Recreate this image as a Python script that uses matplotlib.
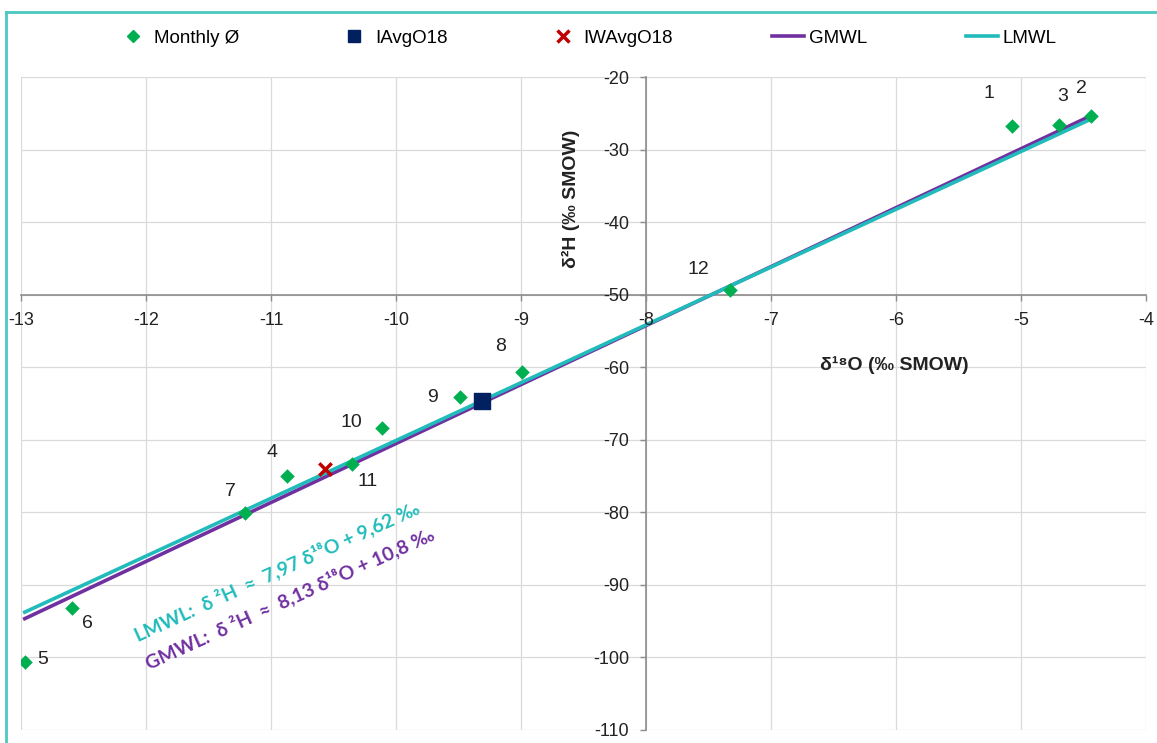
import matplotlib
matplotlib.use("Agg")
import matplotlib.pyplot as plt
from matplotlib.lines import Line2D
import numpy as np

# ---- data ----
month_labels = ["1", "2", "3", "4", "5", "6", "7", "8", "9", "10", "11", "12"]
d18O = [-5.07, -4.44, -4.70, -10.87, -12.97, -12.59, -11.21, -8.99, -9.49, -10.11, -10.35, -7.33]
d2H = [-26.7, -25.3, -26.6, -75.0, -100.6, -93.2, -80.1, -60.6, -64.1, -68.3, -73.3, -49.3]
iavg = (-9.31, -64.6)
iwavg = (-10.57, -74.0)
gmwl_slope, gmwl_int = 8.13, 10.8
lmwl_slope, lmwl_int = 7.97, 9.62
xticks = [-13, -12, -11, -10, -9, -8, -7, -6, -5, -4]
yticks = [-110, -100, -90, -80, -70, -60, -50, -40, -30, -20]
# label offsets in pixels
label_offsets = [(-23, 32), (-10, 27), (4, 29), (-15, 24), (18, 2), (15, -15),
                 (-14, 22), (-22, 25), (-27, 0), (-31, 5), (15, -18), (-31, 20)]

plt.rcParams['font.family'] = ['Liberation Sans', 'DejaVu Sans']
plt.rcParams['axes.unicode_minus'] = False

W, H = 1157, 743
fig = plt.figure(figsize=(W / 100, H / 100), dpi=100)
ax = fig.add_axes([21 / W, 1 - 730 / H, (1146 - 21) / W, (730 - 77.3) / H])

ax.set_xlim(-13, -4)
ax.set_ylim(-110, -20)
ax.set_xticks(xticks)
ax.set_yticks(yticks)
ax.grid(False)
for xv in xticks:
    ax.axvline(xv, color='#DADADA', lw=0.9, zorder=0.5)
for yv in yticks:
    ax.axhline(yv, color='#DADADA', lw=0.9, zorder=0.5)
ax.set_axisbelow(False)

for s in ['top', 'right']:
    ax.spines[s].set_visible(False)
ax.spines['left'].set_position(('data', -8))
ax.spines['bottom'].set_position(('data', -50))
for s in ['left', 'bottom']:
    ax.spines[s].set_color('#8C8C8C')
    ax.spines[s].set_linewidth(1.2)
    ax.spines[s].set_zorder(1)
ax.tick_params(axis='both', colors='#8C8C8C', labelcolor='#222222', labelsize=13,
               direction='out', length=4, width=1)
ax.tick_params(axis='x', pad=8)
ax.tick_params(axis='y', pad=8)

xs = np.array([min(d18O), max(d18O)])
ax.plot(xs, gmwl_slope * xs + gmwl_int, color='#7030A0', lw=2.6, label='GMWL', zorder=2)
ax.plot(xs, lmwl_slope * xs + lmwl_int, color='#21BBBB', lw=2.6, label='LMWL', zorder=2.1)

ax.scatter(d18O, d2H, marker='D', s=55, color='#00B050', label='Monthly Ø', zorder=5, linewidths=0)
ax.scatter([iavg[0]], [iavg[1]], marker='s', s=130, color='#002060', label='IAvgO18', zorder=6)
ax.scatter([iwavg[0]], [iwavg[1]], marker='x', s=80, color='#C00000', linewidths=2.5,
           label='IWAvgO18', zorder=6)

for lab, x, y, (dx, dy) in zip(month_labels, d18O, d2H, label_offsets):
    ax.annotate(lab, (x, y), xytext=(dx, dy), textcoords='offset pixels',
                ha='center', va='center', fontsize=14, color='#222222')

ax.text(-6.01, -59.7, 'δ¹⁸O (‰ SMOW)', fontsize=14, fontweight='bold', color='#222222',
        ha='center', va='center')
ax.text(-8.6, -36.7, 'δ²H (‰ SMOW)', fontsize=14, fontweight='bold', color='#222222',
        ha='center', va='center', rotation=90)

eqfam = ['Lato', 'DejaVu Sans']
ax.text(-10.95, -88.1, 'LMWL:  δ ²H  ≈  7,97 δ¹⁸O + 9,62 ‰', color='#21BBBB', fontsize=14,
        fontweight='bold', rotation=24.5, rotation_mode='anchor', ha='center', va='center',
        family=eqfam)
ax.text(-10.85, -91.8, 'GMWL:  δ ²H  ≈  8,13 δ¹⁸O + 10,8 ‰', color='#7030A0', fontsize=14,
        fontweight='bold', rotation=24.5, rotation_mode='anchor', ha='center', va='center',
        family=eqfam)

handles = [
    Line2D([], [], marker='D', color='#00B050', ls='none', markersize=6),
    Line2D([], [], marker='s', color='#002060', ls='none', markersize=9),
    Line2D([], [], marker='x', color='#C00000', ls='none', markersize=8, markeredgewidth=2.5),
    Line2D([], [], color='#7030A0', lw=2.6),
    Line2D([], [], color='#21BBBB', lw=2.6),
]
labels = ['Monthly Ø', 'IAvgO18', 'IWAvgO18', 'GMWL', 'LMWL']
fig.legend(handles, labels, loc='center', bbox_to_anchor=(587 / W, 1 - 38 / H), ncol=5,
           frameon=False, fontsize=13.5, columnspacing=5.3, handlelength=1.7, handletextpad=0.25)

fig.add_artist(Line2D([6 / W, 6 / W], [0, 1 - 12 / H], transform=fig.transFigure,
                      color='#4CC8C2', lw=2))
fig.add_artist(Line2D([6 / W, 1], [1 - 12 / H, 1 - 12 / H], transform=fig.transFigure,
                      color='#4CC8C2', lw=2))

fig.savefig('out.png', dpi=100)
